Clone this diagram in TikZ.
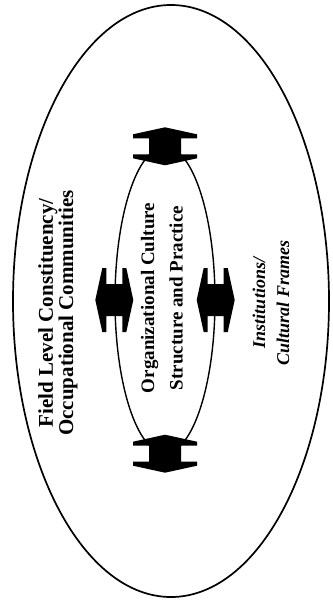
\documentclass[tikz,border=0pt]{standalone}
\usepackage{fontspec}
\setmainfont{Liberation Serif}
\usetikzlibrary{shapes.geometric}
\tikzset{
  pics/dblarrow/.style={code={
    \fill[black] (0,-19) -- (32,-12) -- (32,-8) -- (16,-8) -- (16,8) -- (32,8) -- (32,12)
      -- (0,19) -- (-32,12) -- (-32,8) -- (-16,8) -- (-16,-8) -- (-32,-8) -- (-32,-12) -- cycle;
  }},
  ring/.style={draw, ellipse, inner sep=0pt},
  vtext/.style={rotate=90, align=center, inner sep=0pt}
}
\begin{document}
\begin{tikzpicture}[x=1pt,y=-1pt]
\useasboundingbox (0,0) rectangle (332,607);
\node[ring, line width=1.7pt, minimum width=316pt, minimum height=592pt] (outer) at (171,301) {};
\node[ring, line width=1.4pt, minimum width=100pt, minimum height=306pt] (inner) at (165,300) {};
\pic at (inner.north) {dblarrow};
\pic at (inner.south) {dblarrow};
\pic[rotate=90] at (inner.west) {dblarrow};
\pic[rotate=90] at (inner.east) {dblarrow};
\node[vtext, font=\bfseries\fontsize{19}{28.5}\selectfont] (org) at (162,298)
  {Organizational Culture\\Structure and Practice};
\node[vtext, font=\bfseries\fontsize{21}{18}\selectfont] (field) at (58,313)
  {Field Level Constituency/\\Occupational Communities};
\node[vtext, font=\bfseries\itshape\fontsize{18}{24}\selectfont] (inst) at (271,303)
  {Institutions/\\Cultural Frames};
\end{tikzpicture}
\end{document}
